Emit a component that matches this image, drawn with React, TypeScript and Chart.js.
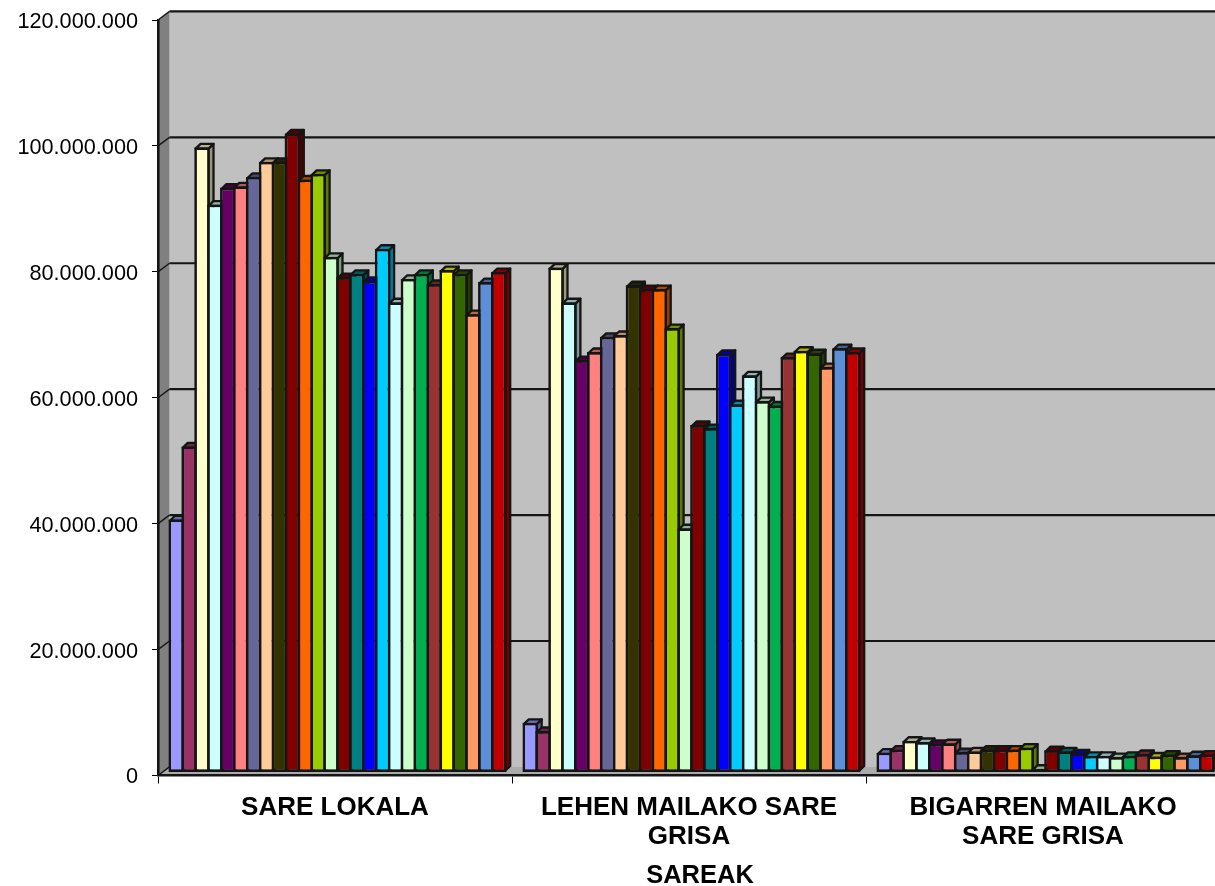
import React, { useEffect, useRef } from "react";
import { Chart, registerables } from "chart.js";

Chart.register(...registerables);

const categories = [
  ["SARE LOKALA"],
  ["LEHEN MAILAKO SARE", "GRISA"],
  ["BIGARREN MAILAKO", "SARE GRISA"],
];
const axisTitle = "SAREAK";

const colors = [
  "#9999FF", "#993366", "#FFFFCC", "#CCFFFF", "#660066", "#FF8080", "#666699", "#FFCC99", "#333300",
  "#800000", "#FF6600", "#99CC00", "#CCFFCC", "#800000", "#008080", "#0000FF", "#00CCFF", "#CCFFFF",
  "#CCFFCC", "#00B050", "#993333", "#FFFF00", "#336600", "#FF9966", "#5B8FD9", "#C00000",
];

// values in millions, one entry per series
const sareLokala = [
  40.2, 51.8, 99.3, 90.2, 92.9, 93.1, 94.6, 97.0, 97.0, 101.5, 94.2, 95.1, 81.9,
  78.7, 79.2, 78.1, 83.2, 74.7, 78.4, 79.2, 77.6, 79.8, 79.2, 72.8, 77.9, 79.5,
];
const lehenMailako = [
  7.9, 6.6, 80.2, 74.7, 65.5, 66.8, 69.2, 69.5, 77.4, 76.8, 76.8, 70.6, 38.8,
  55.2, 54.7, 66.5, 58.5, 63.1, 59.0, 58.3, 66.0, 67.0, 66.6, 64.4, 67.4, 66.8,
];
const bigarrenMailako = [
  3.15, 3.65, 5.05, 4.85, 4.55, 4.65, 3.25, 3.35, 3.65, 3.65, 3.65, 3.95, 0.6,
  3.55, 3.35, 3.05, 2.65, 2.65, 2.45, 2.65, 2.95, 2.55, 2.85, 2.45, 2.75, 2.85,
];

const FONT = "'Liberation Sans', Arial, sans-serif";
const INK = "#151515";
const WALL_DX = 11.5;
const WALL_DY = 8.6;
const BAR_SHIFT_X = 2.5;
const BAR_SHIFT_Y = -3;
const BAR_DX = 5;
const BAR_DY = 4.8;
const BAR_BORDER = 2.7;
const TITLE_CENTER = 700;
const Y_LABEL_DROP = 2;

function shade(hex: string, k: number) {
  const n = parseInt(hex.slice(1), 16);
  const r = Math.round(((n >> 16) & 255) * k);
  const g = Math.round(((n >> 8) & 255) * k);
  const b = Math.round((n & 255) * k);
  return `rgb(${r},${g},${b})`;
}

function poly(ctx: CanvasRenderingContext2D, pts: number[][], fill: string | null, stroke: string | null, lw = 1) {
  ctx.beginPath();
  pts.forEach((p, i) => (i ? ctx.lineTo(p[0], p[1]) : ctx.moveTo(p[0], p[1])));
  ctx.closePath();
  if (fill) {
    ctx.fillStyle = fill;
    ctx.fill();
  }
  if (stroke) {
    ctx.strokeStyle = stroke;
    ctx.lineWidth = lw;
    ctx.stroke();
  }
}

const nudges = {
  id: "nudges",
  afterLayout(chart: any) {
    const block = chart.titleBlock;
    if (block) {
      block.left = TITLE_CENTER - chart.width / 2;
      block.right = TITLE_CENTER + chart.width / 2;
    }
  },
  afterUpdate(chart: any) {
    chart.scales.y.getLabelItems().forEach((item: any) => {
      item.options.translation[1] += Y_LABEL_DROP;
    });
  },
};

const walls3d = {
  id: "walls3d",
  beforeDraw(chart: any) {
    const { ctx, chartArea: a, scales } = chart;
    const y = scales.y;
    const R = a.right;
    ctx.save();
    // back wall
    poly(ctx, [[a.left + WALL_DX, a.top - WALL_DY], [R + WALL_DX, a.top - WALL_DY], [R + WALL_DX, a.bottom - WALL_DY], [a.left + WALL_DX, a.bottom - WALL_DY]], "#C0C0C0", null);
    // left wall
    poly(ctx, [[a.left, a.top], [a.left + WALL_DX, a.top - WALL_DY], [a.left + WALL_DX, a.bottom - WALL_DY], [a.left, a.bottom]], "#808080", null);
    // floor
    poly(ctx, [[a.left, a.bottom], [a.left + WALL_DX, a.bottom - WALL_DY], [R + WALL_DX, a.bottom - WALL_DY], [R, a.bottom]], "#ABABAB", null);
    // grid on the walls, from the y scale
    ctx.lineCap = "butt";
    y.ticks.forEach((t: any) => {
      const py = y.getPixelForValue(t.value);
      ctx.strokeStyle = INK;
      ctx.lineWidth = 2.2;
      if (t.value !== 0) {
        ctx.beginPath();
        ctx.moveTo(a.left + WALL_DX, py - WALL_DY);
        ctx.lineTo(R + WALL_DX, py - WALL_DY);
        ctx.stroke();
      }
      ctx.lineWidth = 1.4;
      ctx.beginPath();
      ctx.moveTo(a.left, py);
      ctx.lineTo(a.left + WALL_DX, py - WALL_DY);
      ctx.stroke();
    });
    ctx.restore();
  },
};

const bars3d = {
  id: "bars3d",
  beforeDatasetsDraw(chart: any) {
    const { ctx } = chart;
    const count = chart.data.labels.length;
    const n = chart.data.datasets.length;
    ctx.save();
    ctx.translate(BAR_SHIFT_X, BAR_SHIFT_Y);
    ctx.lineJoin = "round";
    for (let c = 0; c < count; c++) {
      for (let d = 0; d < n; d++) {
        const el = chart.getDatasetMeta(d).data[c];
        if (!el) continue;
        const hex = colors[d];
        const i = BAR_BORDER / 2;
        const l = el.x - el.width / 2 + i;
        const r = el.x + el.width / 2 - i;
        const t = el.y + i;
        const b = el.base - i;
        poly(ctx, [[r, t], [r + BAR_DX, t - BAR_DY], [r + BAR_DX, b - BAR_DY], [r, b]], shade(hex, 0.6), INK, BAR_BORDER - 0.4);
        poly(ctx, [[l, t], [l + BAR_DX, t - BAR_DY], [r + BAR_DX, t - BAR_DY], [r, t]], shade(hex, 0.7), INK, BAR_BORDER - 0.4);
        el.draw(ctx);
      }
    }
    ctx.restore();
    return false;
  },
};

export default function App() {
  const ref = useRef<HTMLCanvasElement>(null);
  useEffect(() => {
    const datasets = colors.map((color, i) => ({
      data: [sareLokala[i] * 1e6, lehenMailako[i] * 1e6, bigarrenMailako[i] * 1e6],
      backgroundColor: color,
      borderColor: INK,
      borderWidth: BAR_BORDER,
      borderSkipped: false,
      inflateAmount: 0,
      barPercentage: 1.21,
      categoryPercentage: 0.9475,
    }));
    const chart = new Chart(ref.current as HTMLCanvasElement, {
      type: "bar",
      data: { labels: categories as any, datasets: datasets as any },
      plugins: [nudges, walls3d, bars3d] as any,
      options: {
        animation: false,
        responsive: false,
        layout: { padding: { left: 0, top: 20, right: 180, bottom: -2.5 } },
        plugins: {
          legend: { display: false },
          tooltip: { enabled: false },
          title: {
            display: true,
            text: axisTitle,
            position: "bottom",
            padding: 0,
            color: "#000",
            font: { family: FONT, size: 25.5, weight: "bold", lineHeight: 1 },
          },
        },
        scales: {
          x: {
            afterFit(s: any) {
              s.height = 87.5;
              s.paddingLeft = 0;
              s.paddingRight = 0;
            },
            grid: { drawOnChartArea: false, drawTicks: true, tickLength: 8, tickWidth: 1, tickColor: "#000" },
            border: { display: true, color: INK, width: 2.6 },
            ticks: {
              maxRotation: 0,
              autoSkip: false,
              padding: 10,
              color: "#000",
              font: { family: FONT, size: 26, weight: "bold", lineHeight: 1.115 },
            },
          },
          y: {
            min: 0,
            max: 120000000,
            afterFit(s: any) {
              s.width = 158;
              s.paddingTop = 0;
              s.paddingBottom = 0;
            },
            grid: { drawOnChartArea: false, drawTicks: true, tickLength: 6, tickWidth: 1, tickColor: "#000" },
            border: { display: true, color: INK, width: 2.6 },
            ticks: {
              stepSize: 20000000,
              padding: 14,
              color: "#000",
              font: { family: FONT, size: 21.7 },
              callback: (v: any) => Number(v).toLocaleString("de-DE"),
            },
          },
        },
      } as any,
    });
    return () => chart.destroy();
  }, []);
  return (
    <div style={{ position: "fixed", left: 0, top: 0, width: 1215, height: 886, overflow: "hidden", background: "#fff" }}>
      <canvas ref={ref} width={1400} height={886} style={{ display: "block" }} />
    </div>
  );
}
